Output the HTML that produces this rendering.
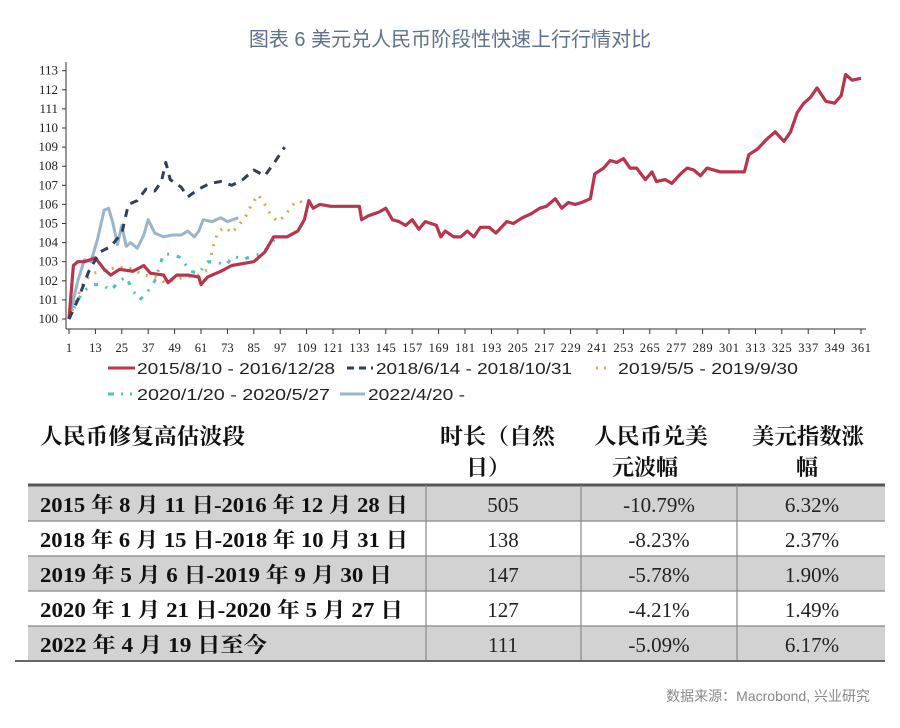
<!DOCTYPE html>
<html><head><meta charset="utf-8"><style>
body{margin:0;background:#fff;width:900px;height:723px;overflow:hidden;font-family:"Liberation Serif","Noto Serif CJK SC",serif}
</style></head><body>
<svg id="s" width="900" height="723" xmlns="http://www.w3.org/2000/svg">
<text x="450" y="46" text-anchor="middle" font-family="Liberation Sans,Noto Sans CJK SC,sans-serif" font-size="20" fill="#5d7190">图表 6 美元兑人民币阶段性快速上行行情对比</text>
<g id="ax" font-size="13" fill="#222"></g>
<g id="ser"></g>
<g font-family="Liberation Sans,Noto Sans CJK SC,sans-serif" font-size="16" fill="#222">
<line x1="108" y1="368" x2="135" y2="368" stroke="#b8354b" stroke-width="3"/><text x="137" y="374" textLength="198" lengthAdjust="spacingAndGlyphs">2015/8/10 - 2016/12/28</text>
<line x1="347" y1="368" x2="373" y2="368" stroke="#2f3f5c" stroke-width="3" stroke-dasharray="7,5"/><text x="376" y="374" textLength="196" lengthAdjust="spacingAndGlyphs">2018/6/14 - 2018/10/31</text>
<line x1="596" y1="368" x2="610" y2="368" stroke="#e0a840" stroke-width="3" stroke-dasharray="2,6"/><text x="618" y="374" textLength="180" lengthAdjust="spacingAndGlyphs">2019/5/5 - 2019/9/30</text>
<line x1="108" y1="394" x2="132" y2="394" stroke="#4cc3b4" stroke-width="3" stroke-dasharray="6,7,2,7"/><text x="137" y="400" textLength="193" lengthAdjust="spacingAndGlyphs">2020/1/20 - 2020/5/27</text>
<line x1="340" y1="394" x2="365" y2="394" stroke="#9ab4cc" stroke-width="3"/><text x="368" y="400" textLength="97" lengthAdjust="spacingAndGlyphs">2022/4/20 -</text>
</g>
<g font-family="Liberation Serif,Noto Serif CJK SC,serif" font-weight="bold" font-size="22" fill="#111">
<text x="40" y="444" textLength="205" lengthAdjust="spacingAndGlyphs">人民币修复高估波段</text>
<text x="440" y="444" textLength="115" lengthAdjust="spacingAndGlyphs">时长（自然</text><text x="466" y="475">日）</text>
<text x="594" y="444" textLength="114" lengthAdjust="spacingAndGlyphs">人民币兑美</text><text x="612" y="475">元波幅</text>
<text x="752" y="444" textLength="112" lengthAdjust="spacingAndGlyphs">美元指数涨</text><text x="796" y="475">幅</text>
</g>
<rect x="28" y="485" width="857" height="36" fill="#d2d2d2"/>
<rect x="28" y="556" width="857" height="35" fill="#d2d2d2"/>
<rect x="28" y="626" width="857" height="35" fill="#d2d2d2"/>
<line x1="28" y1="485" x2="885" y2="485" stroke="#555" stroke-width="3"/>
<g stroke="#888" stroke-width="1.2">
<line x1="28" y1="521" x2="885" y2="521"/><line x1="28" y1="556" x2="885" y2="556"/><line x1="28" y1="591" x2="885" y2="591"/><line x1="28" y1="626" x2="885" y2="626"/>
<line x1="426" y1="485" x2="426" y2="661"/><line x1="581" y1="485" x2="581" y2="661"/><line x1="737" y1="485" x2="737" y2="661"/>
</g>
<line x1="15" y1="661" x2="885" y2="661" stroke="#666" stroke-width="2"/>
<g font-size="21" fill="#111" font-weight="bold" font-family="Liberation Serif,Noto Serif CJK SC,serif" lengthAdjust="spacingAndGlyphs">
<text x="40" y="512" textLength="368" lengthAdjust="spacingAndGlyphs">2015 年 8 月 11 日-2016 年 12 月 28 日</text>
<text x="40" y="547" textLength="368" lengthAdjust="spacingAndGlyphs">2018 年 6 月 15 日-2018 年 10 月 31 日</text>
<text x="40" y="582" textLength="352" lengthAdjust="spacingAndGlyphs">2019 年 5 月 6 日-2019 年 9 月 30 日</text>
<text x="40" y="617" textLength="363" lengthAdjust="spacingAndGlyphs">2020 年 1 月 21 日-2020 年 5 月 27 日</text>
<text x="40" y="652" textLength="227" lengthAdjust="spacingAndGlyphs">2022 年 4 月 19 日至今</text>
</g>
<g font-size="21" fill="#222" text-anchor="middle">
<text x="503" y="512">505</text><text x="659" y="512">-10.79%</text><text x="812" y="512">6.32%</text>
<text x="503" y="547">138</text><text x="659" y="547">-8.23%</text><text x="812" y="547">2.37%</text>
<text x="503" y="582">147</text><text x="659" y="582">-5.78%</text><text x="812" y="582">1.90%</text>
<text x="503" y="617">127</text><text x="659" y="617">-4.21%</text><text x="812" y="617">1.49%</text>
<text x="503" y="652">111</text><text x="659" y="652">-5.09%</text><text x="812" y="652">6.17%</text>
</g>
<text x="870" y="701" text-anchor="end" font-family="Liberation Sans,Noto Sans CJK SC,sans-serif" font-size="14" fill="#888">数据来源：Macrobond, 兴业研究</text>
</svg>
<script>
var NS="http://www.w3.org/2000/svg";
function X(d){return 69+(d-1)*2.2}function Y(v){return 319-(v-100)*19.1}
function el(t,a,p){var e=document.createElementNS(NS,t);for(var k in a)e.setAttribute(k,a[k]);(p||document.getElementById('ser')).appendChild(e);return e}
var ax=document.getElementById('ax');
el('line',{x1:66,y1:62,x2:66,y2:329,stroke:'#333','stroke-width':1},ax);
el('line',{x1:66,y1:329,x2:866,y2:329,stroke:'#333','stroke-width':1},ax);
for(var v=100;v<=113;v++){var y=Y(v);el('line',{x1:62,y1:y,x2:66,y2:y,stroke:'#333'},ax);var t=el('text',{x:58,y:y+4,'text-anchor':'end'},ax);t.textContent=v;}
for(var d=1;d<=361;d+=12){var x=X(d);el('line',{x1:x,y1:329,x2:x,y2:334,stroke:'#333'},ax);var t=el('text',{x:x,y:352,'text-anchor':'middle','font-size':12.5,textLength:d>=100?20:(d>=10?13:null)},ax);if(d<100)t.removeAttribute('textLength');t.textContent=d;}
function S(data,st){var p=[];for(var i=0;i<data.length;i+=2)p.push(X(data[i]).toFixed(1)+','+Y(data[i+1]).toFixed(1));st.points=p.join(' ');st.fill='none';st['stroke-linejoin']='round';el('polyline',st)}
S([1,100,5,102,8,103.1,11,103,14,104.2,17,105.7,19,105.8,21,105,23,103.9,25,104.9,27,103.8,29,104,32,103.7,35,104.4,37,105.2,40,104.5,44,104.3,48,104.4,52,104.4,55,104.6,58,104.3,60,104.6,62,105.2,66,105.1,70,105.3,73,105.1,78,105.3],{stroke:'#9ab4cc','stroke-width':3});
S([1,100,5,101.2,8,102,12,102.4,16,102.5,22,102.7,28,102.7,35,102.3,40,102.2,45,101.9,50,102.1,55,102.2,60,102.3,64,102.6,67,104,69,104.6,72,104.8,75,104.5,78,104.9,81,105.3,84,106,87,106.5,90,106,93,105.4,96,105.1,99,105.4,103,106,106,106.2,108,105.9],{stroke:'#e0a840','stroke-width':3,'stroke-dasharray':'2,7'});
S([1,100,5,101,8,101.5,12,101.8,16,101.8,20,101.5,24,102,27,102.2,30,101.5,33,101,36,101.3,40,102,44,103.4,48,103.4,52,103.2,56,102.5,60,102.4,64,103,68,103,72,102.8,76,103.3,80,103.1,84,103.3,88,103.4,92,103.8,96,104.4],{stroke:'#4cc3b4','stroke-width':3,'stroke-dasharray':'4,8,2,8'});
S([1,100,3,102.8,5,103,8,103,13,103.2,17,102.6,20,102.3,24,102.6,30,102.5,35,102.8,38,102.4,44,102.3,46,101.9,50,102.3,55,102.3,60,102.2,61,101.8,64,102.2,70,102.5,75,102.8,80,102.9,85,103,90,103.5,94,104.3,100,104.3,105,104.6,108,105.2,110,106.2,112,105.8,115,106,120,105.9,130,105.9,133,105.9,134,105.2,137,105.4,142,105.6,145,105.8,148,105.2,151,105.1,154,104.9,157,105.2,160,104.7,163,105.1,168,104.9,170,104.3,172,104.6,176,104.3,179,104.3,182,104.6,185,104.3,188,104.8,192,104.8,195,104.5,200,105.1,203,105.0,207,105.3,211,105.5,215,105.8,218,105.9,222,106.3,225,105.8,228,106.1,231,106.0,234,106.1,238,106.3,240,107.6,244,107.9,247,108.3,250,108.2,253,108.4,256,107.9,259,107.9,263,107.3,266,107.7,268,107.2,272,107.3,275,107.1,279,107.6,282,107.9,285,107.8,288,107.5,291,107.9,297,107.7,302,107.7,308,107.7,310,108.6,314,108.9,318,109.4,322,109.8,326,109.3,329,109.8,332,110.8,335,111.3,338,111.6,341,112.1,345,111.4,349,111.3,352,111.7,354,112.8,357,112.5,361,112.6],{stroke:'#b8354b','stroke-width':3.2});
S([1,100,5,101,10,102.5,15,103.5,20,103.8,25,104.5,28,106,32,106.2,36,106.8,40,106.7,43,107.2,45,108.2,47,107.3,52,106.9,55,106.4,60,106.8,65,107.1,70,107.2,75,107.0,80,107.3,85,107.8,90,107.5,95,108.3,99,109],{stroke:'#2f3f5c','stroke-width':3,'stroke-dasharray':'8,7'});
</script>
</body></html>
